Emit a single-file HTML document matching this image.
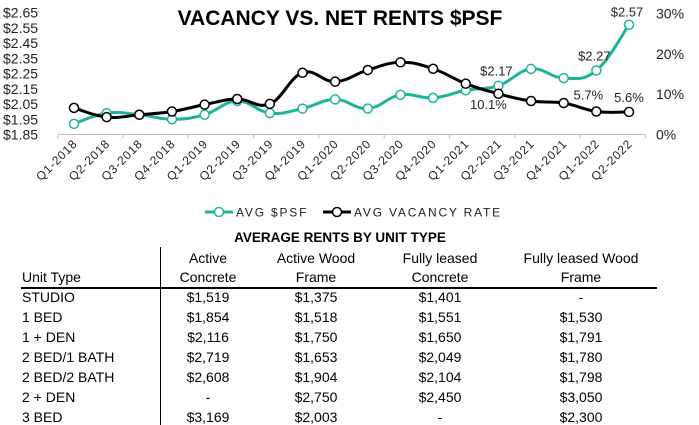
<!DOCTYPE html>
<html><head><meta charset="utf-8"><style>
body{margin:0;width:699px;height:425px;background:#fff;font-family:"Liberation Sans",sans-serif;overflow:hidden;position:relative}
svg{position:absolute;left:0;top:0}
.t{position:absolute;font-size:14px;color:#000;white-space:nowrap}
.c{text-align:center;transform:translateX(-50%)}
</style></head><body>
<svg width="699" height="230" id="chart">
<text x="340" y="25" text-anchor="middle" font-size="21" font-weight="bold">VACANCY VS. NET RENTS $PSF</text>
</svg>
<div class="t" style="left:340px;top:230px;font-weight:bold;font-size:13.5px;transform:translateX(-50%)">AVERAGE RENTS BY UNIT TYPE</div>
<div style="position:absolute;left:160px;top:247px;width:1px;height:178px;background:#000"></div>
<div style="position:absolute;left:21px;top:287px;width:636px;height:1.5px;background:#000"></div>
<div id="tbl"></div>
<script>
const categories=["Q1-2018","Q2-2018","Q3-2018","Q4-2018","Q1-2019","Q2-2019","Q3-2019","Q4-2019","Q1-2020","Q2-2020","Q3-2020","Q4-2020","Q1-2021","Q2-2021","Q3-2021","Q4-2021","Q1-2022","Q2-2022"];
const psfValues=[1.92,1.99,1.98,1.95,1.98,2.07,1.99,2.02,2.08,2.02,2.11,2.09,2.14,2.17,2.28,2.22,2.27,2.57];
const vacancyValues=[6.6,4.3,4.9,5.7,7.4,8.8,7.6,15.3,13.1,16.0,17.9,16.3,12.6,10.1,8.3,7.8,5.7,5.6];
const leftTicks=["$2.65","$2.55","$2.45","$2.35","$2.25","$2.15","$2.05","$1.95","$1.85"];
const rightTicks=["30%","20%","10%","0%"];
const psfLabels={13:"$2.17",16:"$2.27",17:"$2.57"};
const vacLabels={13:"10.1%",16:"5.7%",17:"5.6%"};
const NS="http://www.w3.org/2000/svg";
const svg=document.getElementById('chart');
const X0=74,DX=(629-74)/17,YB=134.5;
const xs=i=>X0+i*DX;
const yL=v=>YB-(v-1.85)/0.8*122;
const yR=v=>YB-v/30*121;
function mk(t,a){const e=document.createElementNS(NS,t);for(const k in a)e.setAttribute(k,a[k]);svg.appendChild(e);return e;}
function txt(x,y,s,a,fs,anchor,tr){const e=mk('text',{x:x,y:y,'font-size':fs,'text-anchor':anchor,fill:'#222'});if(tr)e.setAttribute('transform',tr);e.textContent=s;return e;}
leftTicks.forEach((s,i)=>{const v=2.65-i*0.1;const e=txt(3,yL(v)+5,s,0,14,'start');

});
rightTicks.forEach((s,i)=>{const v=30-i*10;const e=txt(656,yR(v)+5,s,0,14,'start');

});
const ax=mk('line',{x1:58,x2:645,y1:YB,y2:YB,stroke:'#bbb','stroke-width':1});


for(let i=0;i<=categories.length;i+=2){const t=mk('line',{x1:xs(i)-DX/2,x2:xs(i)-DX/2,y1:YB,y2:YB+4,stroke:'#bbb'});

}
categories.forEach((c,i)=>{const x=xs(i)+4,y=YB+10;const e=txt(x,y,c,0,12,'end','rotate(-45 '+x+' '+y+')');
e.setAttribute('letter-spacing','0.8');

});
function smooth(pts){let d='M'+pts[0][0]+','+pts[0][1];for(let i=0;i<pts.length-1;i++){const p0=pts[i-1]||pts[i],p1=pts[i],p2=pts[i+1],p3=pts[i+2]||p2;const t=0.2;
d+=' C'+(p1[0]+(p2[0]-p0[0])*t)+','+(p1[1]+(p2[1]-p0[1])*t)+' '+(p2[0]-(p3[0]-p1[0])*t)+','+(p2[1]-(p3[1]-p1[1])*t)+' '+p2[0]+','+p2[1];}return d;}
function series(vals,yf,col,name){const pts=vals.map((v,i)=>[xs(i),yf(v)]);
const p=mk('path',{d:smooth(pts),fill:'none',stroke:col,'stroke-width':3});


pts.forEach(q=>{const c=mk('circle',{cx:q[0],cy:q[1],r:4.5,fill:'#fff',stroke:col,'stroke-width':1.5});

});}
series(psfValues,yL,'#1fb497','psf');
series(vacancyValues,yR,'#000','vacancy');
for(const i in psfLabels){const e=txt(xs(+i)-2,yL(psfValues[i])-10,psfLabels[i],0,13,'middle');if(i==17)e.setAttribute('y',yL(psfValues[i])-8);

}
const vOff={13:[-10,15],16:[-8,-12],17:[0,-10]};
for(const i in vacLabels){const o=vOff[i];const e=txt(xs(+i)+o[0],yR(vacancyValues[i])+o[1],vacLabels[i],0,13,'middle');

}
const lg=[[205,'#1fb497','AVG $PSF'],[323,'#000','AVG VACANCY RATE']];
lg.forEach(l=>{const a=mk('line',{x1:l[0],x2:l[0]+28,y1:212,y2:212,stroke:l[1],'stroke-width':3});


const c=mk('circle',{cx:l[0]+14,cy:212,r:4.5,fill:'#fff',stroke:l[1],'stroke-width':1.5});


const t=txt(l[0]+31,216.5,l[2],0,12,'start');t.setAttribute('letter-spacing','1.8');

});
const cols=[208,316,440,581];
const heads=[["Active","Concrete"],["Active Wood","Frame"],["Fully leased","Concrete"],["Fully leased Wood","Frame"]];
const rows=[["STUDIO","$1,519","$1,375","$1,401","-"],["1 BED","$1,854","$1,518","$1,551","$1,530"],["1 + DEN","$2,116","$1,750","$1,650","$1,791"],["2 BED/1 BATH","$2,719","$1,653","$2,049","$1,780"],["2 BED/2 BATH","$2,608","$1,904","$2,104","$1,798"],["2 + DEN","-","$2,750","$2,450","$3,050"],["3 BED","$3,169","$2,003","-","$2,300"]];
const tb=document.getElementById('tbl');
function cell(x,y,s,center,name){const d=document.createElement('div');d.className='t'+(center?' c':'');d.style.left=x+'px';d.style.top=y+'px';d.textContent=s;

tb.appendChild(d);}
cell(22,269,'Unit Type',false,'header-unit-type');
heads.forEach((h,j)=>{cell(cols[j],250,h[0],true,'column-header');cell(cols[j],269,h[1],true,'column-header');});
rows.forEach((r,i)=>{const y=289+i*20;cell(22,y,r[0],false,'row-label');for(let j=1;j<5;j++)cell(cols[j-1],y,r[j],true,'rent-cell');});
</script>
</body></html>
